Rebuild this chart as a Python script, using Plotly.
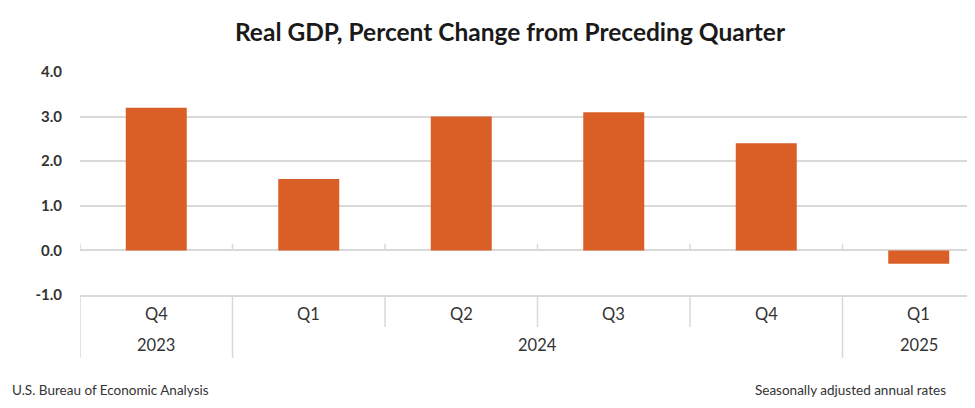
import plotly.graph_objects as go

# Data
quarters = ["Q4", "Q1", "Q2", "Q3", "Q4", "Q1"]
years = ["2023", "2024", "2024", "2024", "2024", "2025"]
values = [3.2, 1.6, 3.0, 3.1, 2.4, -0.3]
ytick_vals = [-1, 0, 1, 2, 3, 4]
ytick_text = ["-1.0", "0.0", "1.0", "2.0", "3.0", "4.0"]

title_text = "Real GDP, Percent Change from Preceding Quarter"
source_text = "U.S. Bureau of Economic Analysis"
note_text = "Seasonally adjusted annual rates"

BAR = "#D95F26"
GRID = "#D9D9D9"
TXT = "#333333"
FONT = "Lato"

OFF = 8  # page body margin
W, H = 975 - OFF, 408 - OFF
ml, mt, mb = 80 - OFF, 72 - OFF, 113
plot_top = 72
plot_bot = 295
plot_h = plot_bot - plot_top
px_per_cat = 152.5
n = len(values)
x_pos = list(range(n))
x_right = -0.5 + (975 - 80) / px_per_cat

fig = go.Figure()
fig.add_trace(go.Bar(x=x_pos, y=values, width=0.4,
                     marker=dict(color=BAR, line=dict(width=0)),
                     hoverinfo="skip"))

shapes = []
# small tick marks on zero line at category boundaries
for i in range(n + 1):
    b = i - 0.5
    shapes.append(dict(type="line", xref="x", yref="y", x0=b, x1=b, y0=0, y1=0.15,
                       line=dict(color=GRID, width=1.5)))
# dividers in the category table
group_bounds = [-0.5]
for i in range(1, n):
    if years[i] != years[i - 1]:
        group_bounds.append(i - 0.5)
group_bounds.append(n - 0.5)
for i in range(n + 1):
    b = i - 0.5
    length = 63 if b in group_bounds else 32
    shapes.append(dict(type="line", xref="x", yref="paper", x0=b, x1=b,
                       y0=0, y1=-length / plot_h, line=dict(color=GRID, width=1.5)))

annotations = []
for i, q in enumerate(quarters):
    annotations.append(dict(x=i, y=-19 / plot_h, xref="x", yref="paper", text=q,
                            showarrow=False, yanchor="middle",
                            font=dict(family=FONT, size=16.5, color=TXT)))
# year labels centered across groups
for g in range(len(group_bounds) - 1):
    a, b = group_bounds[g], group_bounds[g + 1]
    idx = int(a + 0.5)
    annotations.append(dict(x=(a + b) / 2, y=-50 / plot_h, xref="x", yref="paper",
                            text=years[idx], showarrow=False, yanchor="middle",
                            font=dict(family=FONT, size=16.5, color=TXT)))
foot_y = (plot_bot - 390) / plot_h
annotations.append(dict(x=(10 - 80) / (975 - 80), y=foot_y, xref="paper", yref="paper",
                        text=source_text, showarrow=False, xanchor="left", yanchor="middle",
                        font=dict(family=FONT, size=13.5, color=TXT)))
annotations.append(dict(x=(948 - 80) / (975 - 80), y=foot_y,
                        xref="paper", yref="paper", text=note_text, showarrow=False,
                        xanchor="right", yanchor="middle",
                        font=dict(family=FONT, size=13.5, color=TXT)))

fig.update_layout(
    width=W, height=H,
    margin=dict(l=ml, r=0, t=mt, b=mb),
    paper_bgcolor="white", plot_bgcolor="white",
    showlegend=False,
    title=dict(text="<b>" + title_text + "</b>", x=(510 - OFF) / W, xref="container",
               y=1 - (32 - OFF) / H, yref="container", xanchor="center", yanchor="middle",
               font=dict(family=FONT, size=24.5, color="#1a1a1a")),
    xaxis=dict(range=[-0.5, x_right], showticklabels=False, showgrid=False,
               zeroline=False, showline=True, linecolor=GRID, linewidth=1.5,
               ticks="", fixedrange=True),
    yaxis=dict(range=[-1, 4], tickvals=ytick_vals, ticktext=[f"<b>{t}</b>" for t in ytick_text],
               showgrid=True, gridcolor=GRID, gridwidth=1.5,
               zeroline=True, zerolinecolor=GRID, zerolinewidth=1.5,
               showline=False, ticks="", ticklabelstandoff=17,
               tickfont=dict(family=FONT, size=15, color=TXT)),
    shapes=shapes,
    annotations=annotations,
)

fig.write_html("out.html")
